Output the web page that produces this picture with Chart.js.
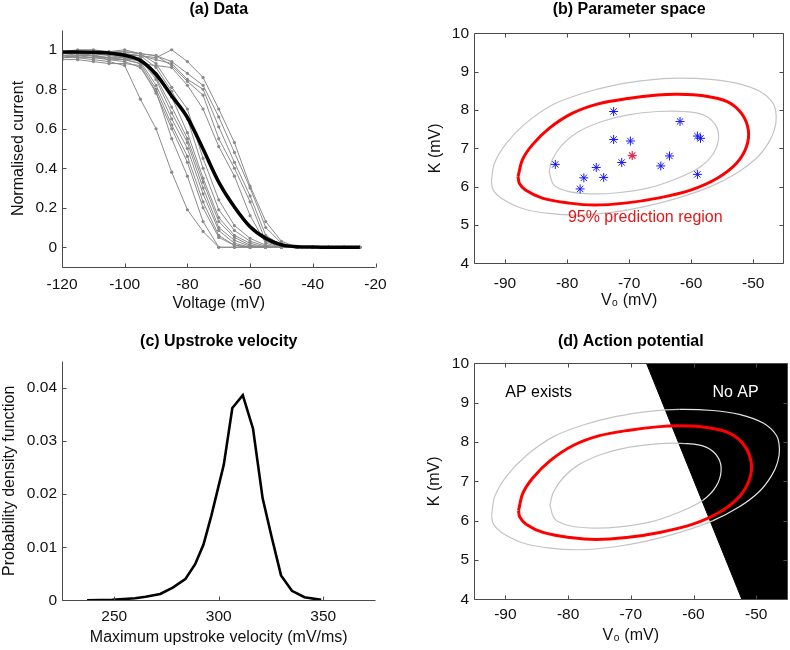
<!DOCTYPE html>
<html>
<head>
<meta charset="utf-8">
<script src="https://cdn.jsdelivr.net/npm/chart.js@4.4.1/dist/chart.umd.min.js"></script>
<style>
  body { margin: 0; background: #fff; }
  .panel { position: absolute; }
</style>
</head>
<body>
<canvas class="panel" id="chart-a" width="395" height="320" style="left:0;top:0"></canvas>
<canvas class="panel" id="chart-b" width="395" height="320" style="left:395px;top:0"></canvas>
<canvas class="panel" id="chart-c" width="395" height="330" style="left:0;top:320px"></canvas>
<canvas class="panel" id="chart-d" width="395" height="330" style="left:395px;top:320px"></canvas>
<script>
// (a) recordings, one value per test voltage
const VOLTAGES = [-120, -115, -110, -105, -100, -95, -90, -85, -80, -75, -70, -65, -60, -55, -50, -45, -40, -35, -30, -25];
const CELL_01 = [0.96, 0.96, 0.95, 0.94, 0.92, 0.75, 0.60, 0.38, 0.19, 0.08, 0.00, 0, 0, 0, 0, 0, 0, 0, 0, 0];
const CELL_02 = [0.98, 0.99, 0.99, 0.98, 0.98, 0.97, 0.96, 1.00, 0.94, 0.86, 0.70, 0.53, 0.31, 0.13, 0.03, 0, 0, 0, 0, 0];
const CELL_03 = [0.99, 1.00, 1.00, 0.99, 1.00, 0.98, 0.97, 0.94, 0.88, 0.82, 0.66, 0.48, 0.30, 0.10, 0.02, 0, 0, 0, 0, 0];
const CELL_04 = [0.97, 0.98, 0.99, 0.99, 0.98, 0.97, 0.95, 0.93, 0.85, 0.80, 0.61, 0.43, 0.26, 0.06, 0.01, 0, 0, 0, 0, 0];
const CELL_05 = [0.98, 0.99, 0.98, 0.98, 0.99, 0.98, 0.97, 0.92, 0.84, 0.77, 0.55, 0.40, 0.23, 0.03, 0, 0, 0, 0, 0, 0];
const CELL_06 = [0.96, 0.97, 0.97, 0.96, 0.95, 0.93, 0.92, 0.91, 0.82, 0.70, 0.51, 0.36, 0.16, 0.02, 0, 0, 0, 0, 0, 0];
const CELL_07 = [0.99, 0.99, 0.99, 0.99, 0.99, 0.98, 0.93, 0.81, 0.70, 0.45, 0.24, 0.11, 0.045, 0.01, 0, 0, 0, 0, 0, 0];
const CELL_08 = [0.98, 0.99, 0.98, 0.98, 0.97, 0.97, 0.91, 0.79, 0.65, 0.40, 0.19, 0.085, 0.03, 0.005, 0, 0, 0, 0, 0, 0];
const CELL_09 = [0.99, 0.98, 0.97, 0.98, 0.96, 0.96, 0.88, 0.76, 0.58, 0.35, 0.15, 0.06, 0.02, 0, 0, 0, 0, 0, 0, 0];
const CELL_10 = [0.97, 0.97, 0.98, 0.97, 0.96, 0.95, 0.86, 0.71, 0.55, 0.33, 0.13, 0.05, 0.01, 0, 0, 0, 0, 0, 0, 0];
const CELL_11 = [0.96, 0.97, 0.96, 0.96, 0.95, 0.95, 0.85, 0.68, 0.53, 0.30, 0.10, 0.035, 0.005, 0, 0, 0, 0, 0, 0, 0];
const CELL_12 = [0.98, 0.98, 0.97, 0.96, 0.96, 0.94, 0.82, 0.65, 0.50, 0.27, 0.085, 0.02, 0, 0, 0, 0, 0, 0, 0, 0];
const CELL_13 = [0.97, 0.96, 0.96, 0.95, 0.95, 0.93, 0.80, 0.62, 0.46, 0.23, 0.06, 0.01, 0, 0, 0, 0, 0, 0, 0, 0];
const CELL_14 = [0.95, 0.95, 0.94, 0.93, 0.93, 0.92, 0.78, 0.60, 0.43, 0.20, 0.05, 0.01, 0, 0, 0, 0, 0, 0, 0, 0];
const CELL_15 = [0.96, 0.97, 0.97, 0.95, 0.94, 0.91, 0.79, 0.55, 0.36, 0.13, 0.00, 0, 0, 0, 0, 0, 0, 0, 0, 0];
const RECORDINGS = [CELL_01, CELL_02, CELL_03, CELL_04, CELL_05, CELL_06, CELL_07, CELL_08,
  CELL_09, CELL_10, CELL_11, CELL_12, CELL_13, CELL_14, CELL_15];
const MEAN_CURVE = [0.988, 0.988, 0.987, 0.983, 0.972, 0.946, 0.876, 0.766, 0.657, 0.497, 0.330, 0.204, 0.104, 0.045, 0.012, 0.003, 0.001, 0, 0, 0];

// (b) fitted parameters and contours
const FIT_V0 = [-72.5, -61.8, -72.5, -69.8, -59.0, -58.5, -81.9, -75.3, -71.2, -63.5, -64.9, -77.3, -74.1, -77.9, -59.0];
const FIT_K = [7.96, 7.70, 7.23, 7.19, 7.32, 7.26, 6.58, 6.50, 6.63, 6.80, 6.54, 6.23, 6.24, 5.94, 6.32];
const MEAN_V0 = [-69.5];
const MEAN_K = [6.81];
const RED_V = [-87.9, -87.2, -85.6, -82.9, -79.2, -75.0, -70.2, -65.4, -62.2, -58.0, -54.2, -51.9, -50.8, -51.1, -52.7, -55.8, -60.1, -65.4, -70.7, -75.5, -79.7, -84.0, -86.7, -87.7, -87.9];
const RED_K = [6.26, 6.70, 7.09, 7.52, 7.91, 8.16, 8.30, 8.39, 8.41, 8.37, 8.22, 7.91, 7.48, 7.04, 6.61, 6.22, 5.91, 5.70, 5.57, 5.52, 5.57, 5.70, 5.91, 6.09, 6.26];
const OUTER_V = [-92.2, -91.7, -89.8, -86.7, -82.4, -77.6, -72.3, -67.0, -62.2, -56.9, -52.7, -48.9, -46.8, -46.3, -46.6, -47.6, -49.5, -52.7, -56.9, -62.2, -67.5, -72.8, -78.2, -82.9, -87.2, -90.6, -91.9, -92.2];
const OUTER_K = [6.13, 6.61, 7.13, 7.65, 8.13, 8.43, 8.65, 8.78, 8.83, 8.80, 8.70, 8.48, 8.17, 7.83, 7.48, 7.13, 6.74, 6.35, 6.00, 5.70, 5.48, 5.33, 5.26, 5.30, 5.43, 5.70, 5.91, 6.13];
const INNER_V = [-82.9, -82.4, -80.8, -78.2, -74.4, -70.2, -65.4, -61.2, -58.0, -56.1, -55.6, -56.4, -58.5, -62.2, -67.0, -71.8, -76.0, -79.7, -82.1, -82.9];
const INNER_K = [6.39, 6.70, 7.09, 7.43, 7.70, 7.87, 7.96, 7.96, 7.87, 7.61, 7.26, 6.87, 6.52, 6.22, 5.96, 5.84, 5.81, 5.87, 6.04, 6.39];

// (c) density of maximum upstroke velocity
const VELOCITY = [237, 249, 260, 265, 272, 278, 284, 288.7, 292.7, 296.5, 302.4, 306.5, 311.5, 316.4, 321, 325.4, 329.8, 335, 341, 349];
const DENSITY = [0, 0.0001, 0.0004, 0.0007, 0.0012, 0.0024, 0.004, 0.0068, 0.0105, 0.016, 0.0255, 0.0362, 0.0386, 0.0323, 0.0192, 0.0118, 0.0047, 0.0018, 0.0006, 0.0001];

// (d) boundary of the region without an action potential
const BOUNDARY_V = [-67.5, -52.3, -45];
const BOUNDARY_K = [10, 4, 4];

const TICKS_A_X = [-120, -100, -80, -60, -40, -20];
const TICKS_A_Y = [0, 0.2, 0.4, 0.6, 0.8, 1];
const TICKS_V0 = [-90, -80, -70, -60, -50];
const TICKS_K = [4, 5, 6, 7, 8, 9, 10];
const TICKS_C_X = [250, 300, 350];
const TICKS_C_Y = [0, 0.01, 0.02, 0.03, 0.04];

const GRAY = "#8a8a8a";
const CONTOUR = "#c4c4c4";
const RED = "#ff0000";
const FONT = '"Liberation Sans", Arial, sans-serif';

Chart.defaults.font.family = FONT;
Chart.defaults.color = "#111";

const pts = (xs, ys) => xs.map((x, i) => ({ x, y: ys[i] }));

// MATLAB-like axes: lines with inward ticks, title centred over the plot
const matlabAxes = {
  id: "matlabAxes",
  afterDatasetsDraw(chart, args, opts) {
    const { ctx, chartArea: a, scales: { x, y } } = chart;
    const len = 4;
    ctx.save();
    ctx.strokeStyle = "#4a4a4a";
    ctx.lineWidth = 1;
    ctx.beginPath();
    const L = Math.round(a.left) + 0.5, B = Math.round(a.bottom) + 0.5;
    const T = Math.round(a.top) + 0.5, R = Math.round(a.right) - 0.5;
    ctx.moveTo(L, T);
    ctx.lineTo(L, B);
    ctx.lineTo(R, B);
    if (opts.box) {
      ctx.lineTo(R, T);
      ctx.lineTo(L, T);
    }
    x.ticks.forEach(t => {
      const px = Math.round(x.getPixelForValue(t.value)) + 0.5;
      ctx.moveTo(px, B);
      ctx.lineTo(px, B - len);
      if (opts.box) { ctx.moveTo(px, T); ctx.lineTo(px, T + len); }
    });
    y.ticks.forEach(t => {
      const py = Math.round(y.getPixelForValue(t.value)) + 0.5;
      ctx.moveTo(L, py);
      ctx.lineTo(L + len, py);
      if (opts.box) { ctx.moveTo(R, py); ctx.lineTo(R - len, py); }
    });
    ctx.stroke();

    ctx.fillStyle = "#000";
    ctx.font = "bold 16px " + FONT;
    ctx.textAlign = "center";
    ctx.textBaseline = "middle";
    ctx.fillText(opts.title, (a.left + a.right) / 2, opts.titleY);
    ctx.restore();
  }
};

// text placed in data coordinates
const notes = {
  id: "notes",
  afterDatasetsDraw(chart, args, opts) {
    const { ctx, scales: { x, y } } = chart;
    ctx.save();
    ctx.font = "16px " + FONT;
    ctx.textAlign = "center";
    ctx.textBaseline = "middle";
    (opts.items || []).forEach(n => {
      ctx.fillStyle = n.color;
      ctx.fillText(n.text, x.getPixelForValue(n.x), y.getPixelForValue(n.y));
    });
    ctx.restore();
  }
};

function axis(cfg) {
  return {
    type: "linear",
    min: cfg.min,
    max: cfg.max,
    afterBuildTicks: s => { s.ticks = cfg.ticks.map(v => ({ value: v })); },
    afterFit: s => { if (cfg.width) s.width = cfg.width; if (cfg.height) s.height = cfg.height; },
    grid: { display: false, drawTicks: false },
    border: { display: false },
    ticks: { padding: cfg.pad, maxRotation: 0, autoSkip: false, color: "#111", font: { size: 15.5 }, callback: v => String(v) },
    title: { display: true, text: cfg.title, color: "#111", font: { size: 16 }, padding: cfg.titlePad }
  };
}

function options(cfg) {
  return {
    responsive: false,
    animation: false,
    layout: { padding: { left: 0, right: cfg.right, top: cfg.top, bottom: 0 } },
    scales: { x: axis(cfg.x), y: axis(cfg.y) },
    plugins: {
      legend: { display: false },
      tooltip: { enabled: false },
      title: { display: false },
      matlabAxes: { box: cfg.box, title: cfg.title, titleY: cfg.titleY },
      notes: { items: cfg.notes || [] }
    }
  };
}

new Chart(document.getElementById("chart-a"), {
  type: "scatter",
  data: {
    datasets: [
      { data: pts(VOLTAGES, MEAN_CURVE), showLine: true, borderColor: "#000", borderWidth: 3.5, pointRadius: 0, cubicInterpolationMode: "monotone" },
      ...RECORDINGS.map(r => ({
        data: pts(VOLTAGES, r), showLine: true, borderColor: GRAY, borderWidth: 1,
        pointRadius: 1.6, pointBackgroundColor: GRAY, pointBorderWidth: 0
      }))
    ]
  },
  options: options({
    title: "(a) Data", titleY: 10, top: 30, right: 19.5, box: false,
    x: { min: -120, max: -20, ticks: TICKS_A_X, height: 53, pad: 8, title: "Voltage (mV)", titlePad: { top: 0, bottom: 6.4 } },
    y: { min: -0.1, max: 1.1, ticks: TICKS_A_Y, width: 62, pad: 5, title: "Normalised current", titlePad: { top: 8.7, bottom: 0 } }
  }),
  plugins: [matlabAxes, notes]
});

const contourSets = (outerColor, innerColor) => [
  { data: pts(RED_V, RED_K), showLine: true, borderColor: RED, borderWidth: 3, pointRadius: 0, tension: 0.35 },
  { data: pts(INNER_V, INNER_K), showLine: true, borderColor: CONTOUR, borderWidth: 1.2, pointRadius: 0, tension: 0.35, segment: innerColor },
  { data: pts(OUTER_V, OUTER_K), showLine: true, borderColor: CONTOUR, borderWidth: 1.2, pointRadius: 0, tension: 0.35, segment: outerColor }
];

new Chart(document.getElementById("chart-b"), {
  type: "scatter",
  data: {
    datasets: [
      { data: pts(MEAN_V0, MEAN_K), pointStyle: "star", pointRadius: 4.5, borderColor: "rgba(225,20,60,0.9)", borderWidth: 1.2 },
      { data: pts(FIT_V0, FIT_K), pointStyle: "star", pointRadius: 4.5, borderColor: "#1515ff", borderWidth: 1 },
      ...contourSets({}, {})
    ]
  },
  options: options({
    title: "(b) Parameter space", titleY: 10, top: 33.3, right: 2.4, box: true,
    x: { min: -95, max: -45, ticks: TICKS_V0, height: 56.7, pad: 11.3, title: "V\u2080 (mV)", titlePad: { top: 0, bottom: 9.4 } },
    y: { min: 4, max: 10, ticks: TICKS_K, width: 79, pad: 5, title: "K (mV)", titlePad: { top: 31.4, bottom: 0 } },
    notes: [{ text: "95% prediction region", x: -67.4, y: 5.18, color: "#e21818" }]
  }),
  plugins: [matlabAxes, notes]
});

new Chart(document.getElementById("chart-c"), {
  type: "scatter",
  data: {
    datasets: [
      { data: pts(VELOCITY, DENSITY), showLine: true, borderColor: "#000", borderWidth: 2.6, pointRadius: 0 }
    ]
  },
  options: options({
    title: "(c) Upstroke velocity", titleY: 21.7, top: 41.2, right: 19.5, box: false,
    x: { min: 225, max: 375, ticks: TICKS_C_X, height: 49.6, pad: 7.2, title: "Maximum upstroke velocity (mV/ms)", titlePad: { top: 0, bottom: 2.4 } },
    y: { min: 0, max: 0.045, ticks: TICKS_C_Y, width: 62, pad: 5, title: "Probability density function", titlePad: { top: 0, bottom: 0 } }
  }),
  plugins: [matlabAxes, notes]
});

// contour segments that fall in the black region are drawn light
const inNoAP = (v, k) => v > BOUNDARY_V[0] + (BOUNDARY_K[0] - k) * (BOUNDARY_V[1] - BOUNDARY_V[0]) / (BOUNDARY_K[0] - BOUNDARY_K[1]);
const lightInBlack = {
  borderColor: c => inNoAP((c.p0.parsed.x + c.p1.parsed.x) / 2, (c.p0.parsed.y + c.p1.parsed.y) / 2) ? "#e4e4e4" : CONTOUR
};

new Chart(document.getElementById("chart-d"), {
  type: "scatter",
  data: {
    datasets: [
      ...contourSets(lightInBlack, lightInBlack),
      { data: pts(BOUNDARY_V, BOUNDARY_K), showLine: true, borderColor: "#000", borderWidth: 1, pointRadius: 0, fill: "end", backgroundColor: "#000" }
    ]
  },
  options: options({
    title: "(d) Action potential", titleY: 21.7, top: 43.3, right: 2.4, box: true,
    x: { min: -95, max: -45, ticks: TICKS_V0, height: 50.7, pad: 6.3, title: "V\u2080 (mV)", titlePad: { top: 0, bottom: 4.4 } },
    y: { min: 4, max: 10, ticks: TICKS_K, width: 79, pad: 5, title: "K (mV)", titlePad: { top: 30.4, bottom: 0 } },
    notes: [
      { text: "AP exists", x: -84.7, y: 9.26, color: "#000" },
      { text: "No AP", x: -53.3, y: 9.26, color: "#fff" }
    ]
  }),
  plugins: [matlabAxes, notes]
});
</script>
</body>
</html>
